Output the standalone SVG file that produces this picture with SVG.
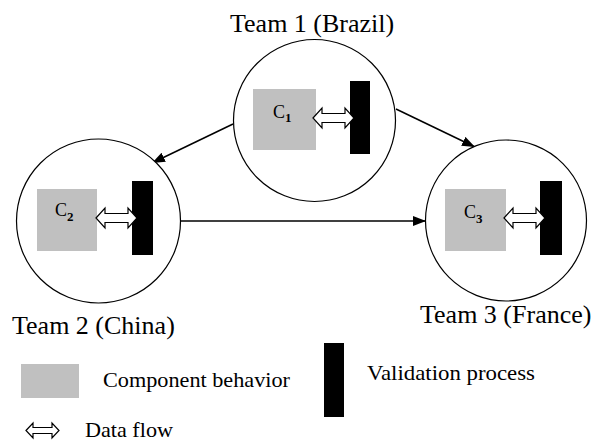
<svg xmlns="http://www.w3.org/2000/svg" xmlns:xlink="http://www.w3.org/1999/xlink" width="605" height="441" viewBox="0 0 605 441">
<style>
.team{fill:#fff;stroke:#000;stroke-width:1.2}
.comp{fill:#c0c0c0}
.val{fill:#000}
.df{fill:#fff;stroke:#000;stroke-width:1.2;stroke-linejoin:miter}
text{font-family:'Liberation Serif','Times New Roman',serif;fill:#000}
.lbl{font-size:26px}
.leg{font-size:21px}
.c{font-size:18px}
.sub{font-size:13px;font-weight:bold}
.conn{stroke:#000;stroke-width:1.5;fill:none}
</style>
<defs>
<marker id="ah" markerUnits="userSpaceOnUse" markerWidth="14" markerHeight="12" refX="13" refY="5" orient="auto">
<path d="M0,0 L13,5 L0,10 z" fill="#000"/>
</marker>
<path id="dflow" d="M0,0 L9,-10 L9,-4.5 L32,-4.5 L32,-10 L41,0 L32,10 L32,4.5 L9,4.5 L9,10 Z"/>
</defs>
<rect width="605" height="441" fill="#fff"/>

<g id="connectors">
<line class="conn" x1="233" y1="124" x2="152" y2="163" marker-end="url(#ah)"/>
<line class="conn" x1="396" y1="109" x2="475" y2="147" marker-end="url(#ah)"/>
<line class="conn" x1="181" y1="221" x2="426" y2="221" marker-end="url(#ah)"/>
</g>

<g id="team1">
<circle class="team" cx="314.5" cy="120.5" r="81"/>
<rect class="comp" x="253" y="89" width="63" height="61"/>
<rect class="val" x="350" y="81" width="20" height="73"/>
<use xlink:href="#dflow" class="df" x="313" y="118"/>
<text class="c" x="273" y="118">C<tspan class="sub" dy="4">1</tspan></text>
<text class="lbl" x="230" y="32">Team 1 (Brazil)</text>
</g>

<g id="team2">
<circle class="team" cx="98.5" cy="221" r="82"/>
<rect class="comp" x="37" y="189" width="60" height="62"/>
<rect class="val" x="132" y="181" width="21" height="74"/>
<use xlink:href="#dflow" class="df" x="96" y="218"/>
<text class="c" x="55" y="216">C<tspan class="sub" dy="5">2</tspan></text>
<text class="lbl" x="12" y="334">Team 2 (China)</text>
</g>

<g id="team3">
<circle class="team" cx="506" cy="220.5" r="80.5"/>
<rect class="comp" x="445" y="189" width="61" height="62"/>
<rect class="val" x="540" y="181" width="22" height="74"/>
<use xlink:href="#dflow" class="df" x="504" y="218"/>
<text class="c" x="464" y="218">C<tspan class="sub" dy="5">3</tspan></text>
<text class="lbl" x="420" y="323">Team 3 (France)</text>
</g>

<g id="legend">
<rect class="comp" x="21" y="364" width="58" height="34"/>
<text class="leg" x="103" y="387" textLength="187" lengthAdjust="spacingAndGlyphs">Component behavior</text>
<rect class="val" x="324" y="343" width="20" height="74"/>
<text class="leg" x="367" y="380" textLength="168" lengthAdjust="spacingAndGlyphs">Validation process</text>
<path class="df" d="M26,430.5 L33,423 L33,427.5 L52,427.5 L52,423 L59,430.5 L52,438 L52,433.5 L33,433.5 L33,438 Z"/>
<text class="leg" x="85" y="437" textLength="88" lengthAdjust="spacingAndGlyphs">Data flow</text>
</g>
</svg>
